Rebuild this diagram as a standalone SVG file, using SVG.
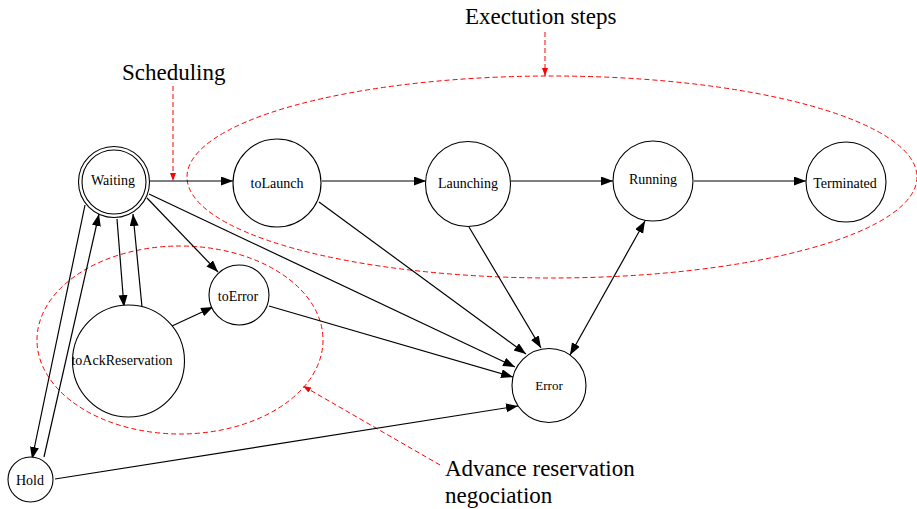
<svg xmlns="http://www.w3.org/2000/svg" width="917" height="509" viewBox="0 0 917 509">
<style>
.n{fill:#fff;stroke:#000;stroke-width:1.1}
.t{font-family:"Liberation Serif","Times New Roman","DejaVu Serif",serif;font-size:14px;fill:#000;text-anchor:middle}
.e{stroke:#000;stroke-width:1.2;fill:none;marker-end:url(#ah)}
.r{stroke:#f00;stroke-width:1;fill:none;stroke-dasharray:5,3}
.ra{stroke:#f00;stroke-width:1;fill:none;stroke-dasharray:5,3;marker-end:url(#rh)}
.big{font-family:"Liberation Serif","Times New Roman","DejaVu Serif",serif;font-size:23px;fill:#000}
</style>
<defs>
<marker id="ah" markerUnits="userSpaceOnUse" markerWidth="13" markerHeight="10" refX="12" refY="4.5" orient="auto-start-reverse"><path d="M0,0 L12,4.5 L0,9 z" fill="#000"/></marker>
<marker id="rh" markerUnits="userSpaceOnUse" markerWidth="9" markerHeight="7" refX="8" refY="3" orient="auto"><path d="M0,0 L8,3 L0,6 z" fill="#f00"/></marker>
</defs>
<g id="annotations">
<ellipse class="r" cx="552" cy="177" rx="365" ry="101"/>
<ellipse class="r" cx="180" cy="340" rx="143" ry="94"/>
<text class="big" x="465" y="24">Exectution steps</text>
<text class="big" x="122" y="80">Scheduling</text>
<text class="big" x="445" y="476">Advance reservation</text>
<text class="big" x="445" y="503">negociation</text>
<line class="ra" x1="545" y1="32" x2="545" y2="76"/>
<line class="ra" x1="173" y1="86" x2="173" y2="181"/>
<line class="ra" x1="440" y1="465" x2="303" y2="386"/>
</g>
<g id="connectors">
<line class="e" x1="150" y1="181" x2="233" y2="181"/>
<line class="e" x1="322" y1="181" x2="426" y2="181"/>
<line class="e" x1="511" y1="181" x2="613" y2="181"/>
<line class="e" x1="694" y1="181" x2="806" y2="181"/>
<line class="e" x1="147" y1="198" x2="218" y2="272"/>
<line class="e" x1="149" y1="194" x2="515" y2="367"/>
<line class="e" x1="319" y1="202" x2="526" y2="354"/>
<line class="e" x1="469" y1="227" x2="541" y2="348"/>
<line class="e" x1="570" y1="355" x2="645" y2="221" style="marker-start:url(#ah)"/>
<line class="e" x1="269" y1="306" x2="513" y2="377"/>
<line class="e" x1="55" y1="479" x2="518" y2="406"/>
<line class="e" x1="172" y1="326" x2="213" y2="307"/>
<line class="e" x1="117" y1="219" x2="124" y2="307"/>
<line class="e" x1="142" y1="307" x2="133" y2="214"/>
<line class="e" x1="85" y1="205" x2="32" y2="459"/>
<line class="e" x1="44" y1="457" x2="99" y2="214"/>
</g>
<g id="Waiting"><circle class="n" cx="114" cy="182" r="35.5"/><circle class="n" cx="114" cy="182" r="32"/><text class="t" x="113" y="185">Waiting</text></g>
<g id="toLaunch"><circle class="n" cx="277" cy="183" r="44"/><text class="t" x="277" y="188">toLaunch</text></g>
<g id="Launching"><circle class="n" cx="468" cy="184" r="42.5"/><text class="t" x="468" y="188">Launching</text></g>
<g id="Running"><circle class="n" cx="653" cy="181" r="40"/><text class="t" x="653" y="184">Running</text></g>
<g id="Terminated"><circle class="n" cx="846" cy="182" r="40"/><text class="t" x="845" y="188">Terminated</text></g>
<g id="toError"><circle class="n" cx="239" cy="295" r="30"/><text class="t" x="238" y="301">toError</text></g>
<g id="toAckReservation"><circle class="n" cx="128.5" cy="361" r="56"/><text class="t" x="122" y="365">toAckReservation</text></g>
<g id="Hold"><circle class="n" cx="30.5" cy="479.5" r="22.5"/><text class="t" x="30" y="485">Hold</text></g>
<g id="Error"><circle class="n" cx="549" cy="385.5" r="37"/><text class="t" x="549" y="390" style="font-size:13px">Error</text></g>
</svg>
